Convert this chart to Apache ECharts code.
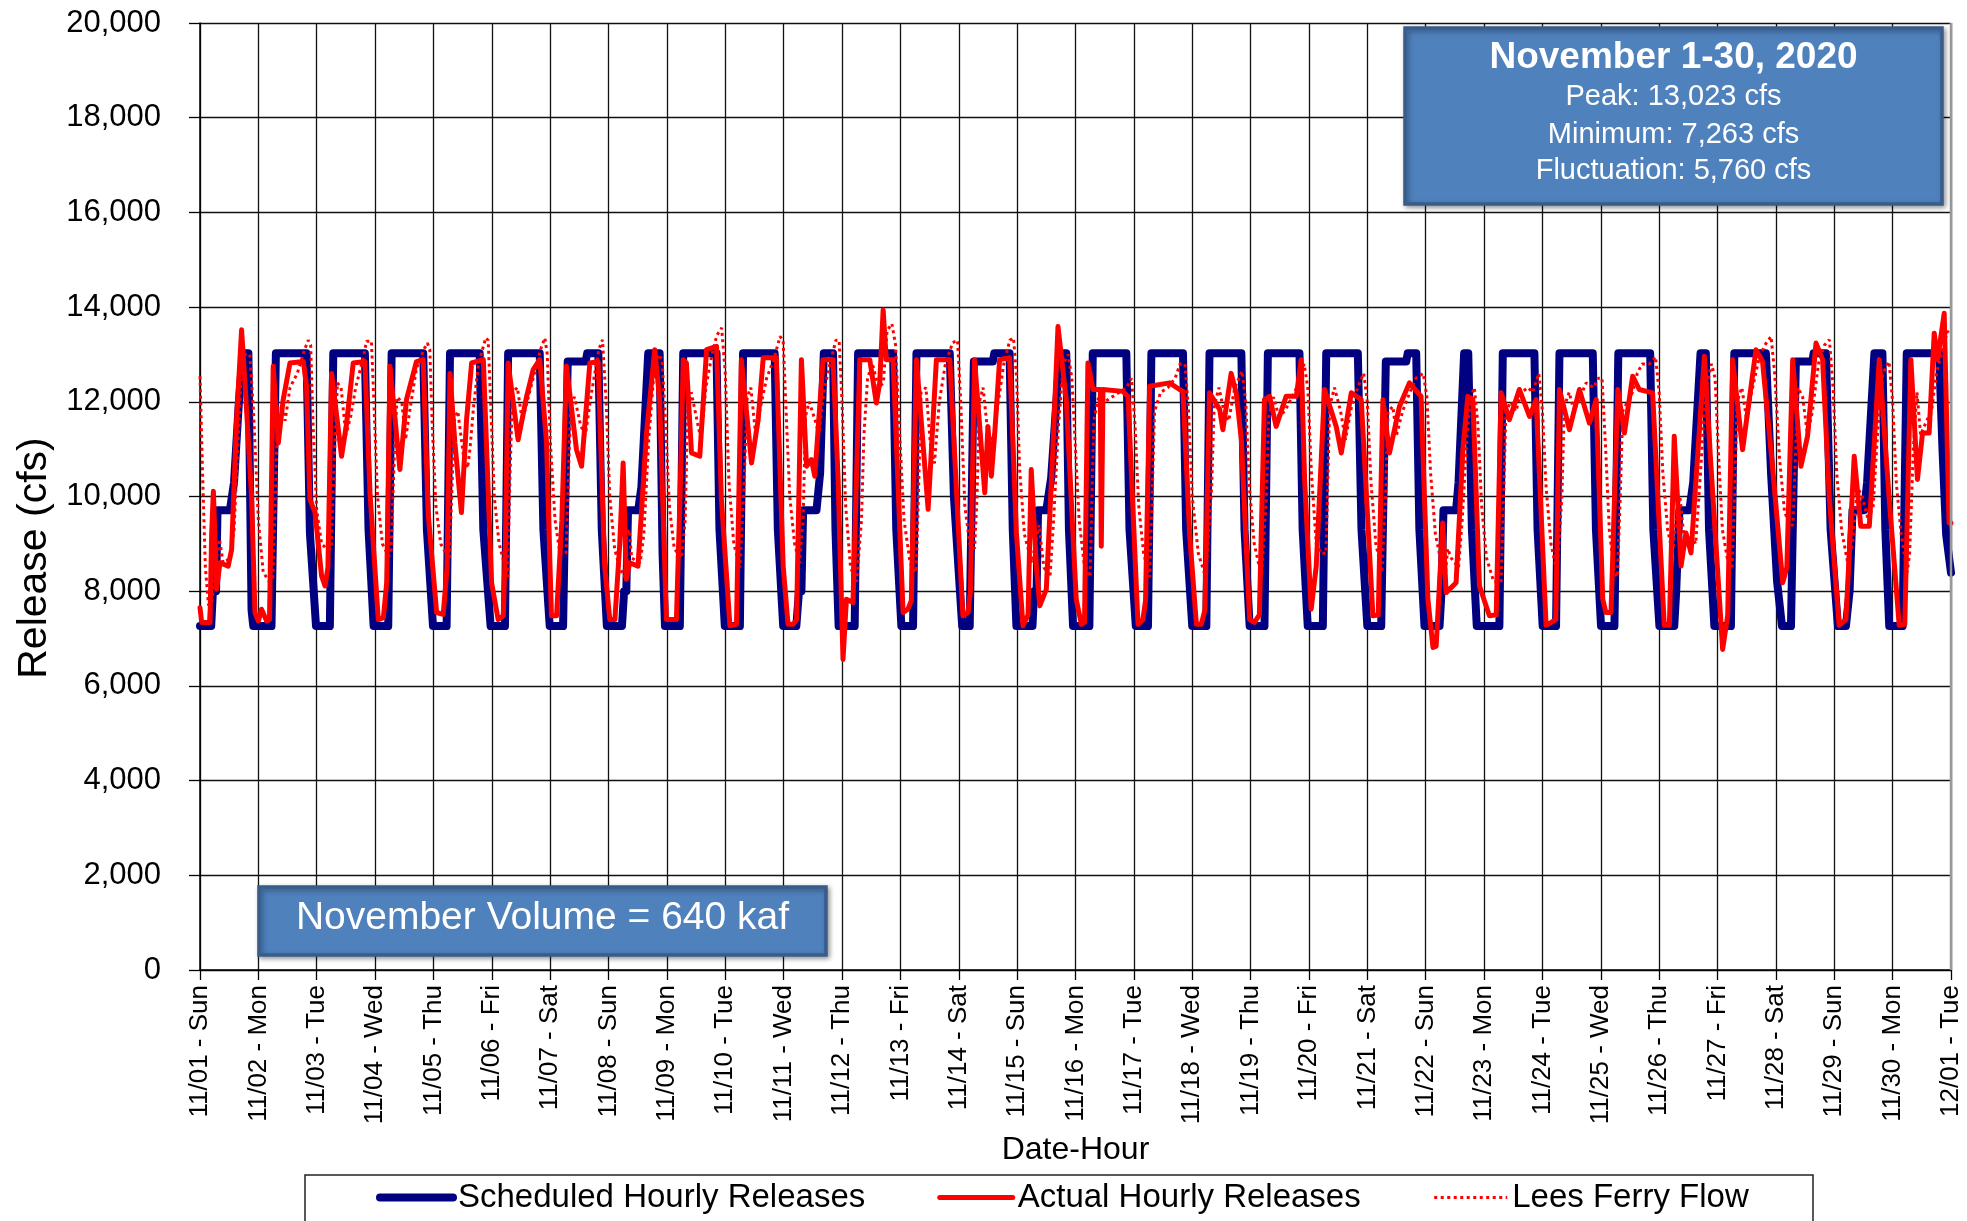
<!DOCTYPE html>
<html>
<head>
<meta charset="utf-8">
<script src="https://cdn.jsdelivr.net/npm/echarts@6/dist/echarts.min.js"></script>
<style>
html,body{margin:0;padding:0;background:#fff;}
#chart{width:1967px;height:1221px;}
</style>
</head>
<body>
<div id="chart"></div>
<script>
// ---- Data (hour since 11/01 00:00, cfs) ----
const dayLabels = ['11/01 - Sun','11/02 - Mon','11/03 - Tue','11/04 - Wed','11/05 - Thu','11/06 - Fri','11/07 - Sat','11/08 - Sun','11/09 - Mon','11/10 - Tue','11/11 - Wed','11/12 - Thu','11/13 - Fri','11/14 - Sat','11/15 - Sun','11/16 - Mon','11/17 - Tue','11/18 - Wed','11/19 - Thu','11/20 - Fri','11/21 - Sat','11/22 - Sun','11/23 - Mon','11/24 - Tue','11/25 - Wed','11/26 - Thu','11/27 - Fri','11/28 - Sat','11/29 - Sun','11/30 - Mon','12/01 - Tue'];

const seriesNames = ['Scheduled Hourly Releases','Actual Hourly Releases','Lees Ferry Flow'];

const scheduled = [
[0,7263],[4.6,7263],[5.3,8000],[6.6,8000],[7.2,9712],[12.3,9712],[14,10300],[16,12000],[17.6,13023],[19.9,13023],[21.2,7600],[21.9,7263],
[29.4,7263],[31.2,13023],[43.8,13023],[45.2,9230],[47.7,7263],
[53.4,7263],[54.8,13023],[67.8,13023],[69.3,9300],[71.4,7263],
[77.4,7263],[78.8,13023],[91.8,13023],[93.3,9300],[95.8,7263],
[101.4,7263],[102.8,13023],[115,13023],[116.5,9300],[119.5,7263],
[125.4,7263],[126.7,13023],[139.7,13023],[141.2,9300],[143.8,7263],
[149.3,7263],[151.2,12850],[158.6,12850],[159.2,13023],[163.8,13023],[165.2,9300],[167.3,7263],
[173.5,7263],[174.4,8000],[175.3,8000],[176,9712],[180.2,9712],[181.5,10200],[184.3,13023],[189,13023],[190.2,8800],[191.2,7263],
[197.3,7263],[198.7,13023],[212.4,13023],[213.6,9300],[215.8,7263],
[222,7263],[223.3,13023],[236.3,13023],[237.6,9300],[239.8,7263],
[245.2,7263],[246.3,8000],[247.3,8000],[248,9712],[253.5,9712],[255,10500],[256.5,13023],[260.3,13023],[261.3,9300],[262.6,7263],
[269.2,7263],[270.6,13023],[285,13023],[286.3,9300],[288.4,7263],
[293.2,7263],[294.6,13023],[308.3,13023],[310,10000],[313.4,7263],
[316.5,7263],[318.2,12850],[326,12850],[326.6,13023],[332.9,13023],[334.2,9300],[335.7,7263],
[342.3,7263],[343,8000],[344,8000],[344.6,9712],[348,9712],[350,10400],[353.5,13023],[356.2,13023],[357.3,9300],[359,7263],
[365.7,7263],[367.1,13023],[380.9,13023],[382.2,9300],[384.8,7263],
[389.8,7263],[391.2,13023],[404.2,13023],[405.5,9300],[408,7263],
[413.8,7263],[415.1,13023],[428.2,13023],[429.5,9300],[431.6,7263],
[437.7,7263],[439.1,13023],[452.1,13023],[453.4,9300],[455.5,7263],
[461.7,7263],[463.1,13023],[476.1,13023],[477.6,9300],[480,7263],
[485.7,7263],[487.6,12850],[496,12850],[496.6,13023],[500.1,13023],[501.4,9300],[503.5,7263],
[509.7,7263],[510.5,8000],[511.3,9712],[516.5,9712],[517.5,10300],[519.8,13023],[521.5,13023],[523,9300],[525,7263],
[534.3,7263],[535.7,13023],[548.7,13023],[550,9300],[552.1,7263],
[557.6,7263],[559,13023],[572.7,13023],[574,9300],[576.1,7263],
[581.6,7263],[583.2,13023],[596.3,13023],[597.6,9300],[600.1,7263],
[606.2,7263],[607,8000],[608.3,9712],[612.4,9712],[614,10300],[617,13023],[619.2,13023],[620.5,9300],[622.7,7263],
[629.5,7263],[630.9,13023],[643.9,13023],[646,10500],[648.5,8200],[650.5,7263],
[654.2,7263],[656.2,12850],[663,12850],[663.5,13023],[668.6,13023],[670.5,9300],[673.5,7263],
[676.8,7263],[678.3,8000],[679.5,9712],[684.3,9712],[685.5,10300],[688.5,13023],[691.8,13023],[693,9300],[694.6,7263],
[700.1,7263],[701.8,13023],[715.1,13023],[716.5,11000],[718,9200],[720,8390]
];

const actual = [
[0,7650],[0.7,7340],[4.1,7340],[4.8,9230],[5.5,10110],[6.85,8040],[8.2,8600],[11.6,8530],[13,8880],[15.1,11690],[17.1,13520],[18.5,12400],[21.2,10010],[22.6,7550],[24,7370],[25.3,7620],[27.4,7370],[28.6,7400],
[30.1,12750],[32.2,11130],[34.2,12045],[37,12820],[42.5,12850],[43.8,12330],[45.2,9940],[47.3,9660],[50,8320],[51.4,8110],[52.6,8500],
[54.1,12600],[58.2,10850],[60.3,11550],[63,12820],[67.8,12850],[69.9,10080],[73.3,7400],[75.4,7440],[76.8,8200],
[78.1,12750],[82.2,10570],[84.9,12045],[89,12850],[91.8,12890],[93.8,9660],[97.3,7550],[100,7510],[101.6,8500],
[102.8,12600],[104.8,11130],[107.5,9660],[109.6,11620],[111.7,12820],[116.5,12890],[119.9,8180],[122.6,7400],[124.7,7480],[125.6,9000],
[126.7,12820],[130.8,11200],[134.3,12110],[137,12680],[139.7,12890],[142.5,11130],[144.5,7480],[146.6,7480],[148.8,9500],
[150.7,12750],[154.8,10990],[156.9,10640],[160.3,12820],[163.7,12850],[166.4,8530],[168.5,7400],[170.6,7400],[172.6,9000],
[174,10710],[175.3,8250],[176.7,8600],[180.1,8530],[183.6,11340],[187,13100],[189,12045],[191.8,7400],[195.9,7400],[197.4,10000],
[198.7,12890],[200,12820],[202.1,10920],[205.5,10850],[208.3,13100],[212.4,13170],[214.4,9940],[217.9,7270],[220.6,7300],
[222.6,12890],[226.8,10710],[229.5,11620],[231.6,12930],[237,12930],[239.8,8530],[241.8,7300],[243.9,7300],[245.3,7400],
[247.3,12890],[249.4,10640],[251.4,10780],[252.8,10430],[256.2,12890],[260.3,12890],[262.4,10360],[264.4,6560],[265.8,7830],[268.5,7760],
[271.3,12890],[275.4,12890],[278.1,11975],[279.5,12400],[280.9,13940],[282.2,12890],[285,12890],[289.1,7550],[291.1,7620],[292.5,7800],
[294.6,12890],[299.4,9730],[302.8,12890],[308.3,12890],[313.7,7480],[315.8,7550],[316.8,8000],
[318.5,12890],[322.7,10080],[324,11480],[325.4,10430],[326.8,11340],[328.8,12890],[332.9,12930],[335.7,9230],[338.4,7270],[340.5,7500],
[341.8,10570],[343.9,8530],[345.3,7690],[348,8040],[350.7,10990],[352.8,13590],[356.2,12045],[360.3,7830],[362.4,7300],[363.7,7340],
[365.1,12820],[367.2,12260],[370.2,12260],[370.6,8950],[371.3,12260],[379.5,12220],[381.6,12110],[385.7,7300],[387.7,7400],[388.8,7800],
[390.5,12330],[398.7,12400],[402.8,12260],[404.2,12220],[406.9,9230],[409.7,7300],[411.7,7300],[413.2,7600],
[415.1,12190],[419.3,11835],[420.6,11410],[424,12600],[426.1,12190],[428.2,11200],[431.6,7400],[433.6,7340],[435.6,7500],
[437.7,12045],[439.8,12115],[442.5,11480],[446.6,12115],[450.8,12115],[452.8,12890],[454.2,10360],[456.9,7620],[459,8530],
[462.4,12260],[467.2,11480],[469.3,10920],[473.4,12190],[477.5,12045],[479.5,10150],[482.3,7480],[484.5,7500],
[486.4,12045],[489.1,10920],[493.2,11900],[497.3,12400],[502.1,12115],[504.9,7830],[507,6810],[508.3,6840],
[511,9440],[512.4,7970],[516.5,8180],[519.3,10990],[521.3,12115],[523.4,12045],[526.1,8110],[530.2,7480],[533,7500],
[535,12190],[538.4,11620],[542.5,12260],[546.7,11690],[549.4,12045],[553.5,7280],[555.6,7340],[557.5,7400],
[559,12260],[563.1,11410],[567.2,12260],[571.3,11550],[574.1,12045],[576.8,7830],[578.1,7550],[580.2,7550],
[583,12260],[585.7,11340],[589.1,12540],[591.8,12260],[597.3,12190],[602.1,7280],[604.2,7280],
[606.2,11270],[609,8530],[611,9230],[613.1,8810],[618.6,12960],[621.3,10640],[626.1,6770],[628.2,7500],
[630.2,12890],[634.3,10990],[639.8,13100],[642.5,12850],[646.6,10640],[650.8,8180],[652.5,8500],
[654.9,12890],[658.3,10640],[661,11270],[664.5,13240],[667.2,12890],[670,9940],[674,7280],[676.8,7400],
[680.2,10850],[682.9,9370],[686.4,9370],[690.5,12890],[694.6,9940],[698.7,7280],[701,7300],
[703.5,12890],[706.2,10360],[708.3,11340],[711,11340],[713.1,13450],[714.5,12890],[717.2,13870],[719.2,9440],[720,9440]
];

const leesFerry = [
[0,12540],[1,10600],[2.2,8500],[3.5,7700],[5,7800],[6.5,8600],[8,9100],[9.5,8600],[12.5,8700],[14,9300],[15.5,11000],[17,12600],[18.5,13000],[20.5,13000],[22,11800],[24,9500],[26,8400],[28.5,8200],
[30,8300],[31,10000],[32,11900],[33.5,11900],[35,11600],[37,12300],[40,12600],[43,13100],[44.5,13300],[45.5,13200],[46.5,11500],[48,9700],[50,9000],[52,8900],[54,8900],
[55,10500],[56.5,12400],[58,12300],[60,11300],[62,11700],[64,12300],[67,12900],[68.5,13280],[70.5,13280],[71.5,12000],[73,10000],[75,9000],[77.5,8740],
[78.5,8800],[80,11000],[81,12100],[83,12000],[84.5,11200],[86.5,11900],[89,12700],[92,13100],[93.5,13240],[94.5,13100],[95.5,11500],[97,9800],[99,9000],[102.5,8670],
[103.5,10000],[104.5,11600],[106,11800],[108.5,10800],[110,10600],[111,11000],[112.5,11900],[114.5,12800],[117.5,13350],[118.5,13300],[119.5,12000],[121,10000],[123,9000],[126.5,8300],
[127.5,10500],[128.5,12200],[130.5,12300],[132.5,11600],[134.5,12000],[137,12500],[140,13100],[141.8,13350],[142.8,13000],[144,11200],[146,9500],[148,8800],[150.5,8800],
[151.5,10500],[152.5,12000],[154,12100],[156.5,11500],[158.5,11300],[161,12200],[164,13100],[165.5,13310],[167,12000],[168.5,10000],[170.5,8900],[172.5,8500],[174.5,8300],
[175.5,9200],[176.5,9300],[177.5,8700],[181,8600],[182.5,9200],[184.5,11200],[186.5,12500],[188.5,13000],[190,12900],[191.5,11500],[193,9800],[195,8900],[198,8700],
[199.5,9500],[200.5,11800],[202,12200],[204,11700],[206,11200],[208,12300],[210.5,13000],[212.5,13400],[214.5,13560],[216,12600],[217.5,10300],[219.5,9000],[222,8500],
[223.5,10000],[225,12100],[226.5,12300],[228.5,11300],[230.5,11900],[233,12500],[236,12900],[238.5,13380],[239.8,13300],[241,11800],[242.5,10000],[244.5,9000],[246.5,8600],
[248,9500],[249,11700],[250.5,12000],[253,11600],[254.5,11300],[256.5,12200],[259,12800],[261.5,13300],[262.8,13300],[264,12000],[265.5,9800],[267.5,8500],[270,8200],
[272,9500],[273,11300],[274.5,12500],[276.5,12800],[279,12300],[281,12400],[282.5,13500],[284.5,13650],[286,13200],[287.5,11500],[289.5,9500],[292,8600],[294.5,8400],
[295.5,10200],[296.5,12200],[298.5,12300],[300.5,11000],[302,10700],[304,12000],[306.5,12800],[309.5,13250],[311.5,13300],[312.8,12000],[314.5,9800],[316.5,9000],[318.5,8900],
[319.5,10000],[320.5,12000],[322,12300],[324,11300],[326,11200],[328,11900],[330.5,12800],[333,13300],[334.5,13350],[335.8,12500],[337,10600],[339,9200],[342,8600],
[343.5,9000],[345,9400],[347,8500],[349.5,8300],[351,9500],[353,11500],[355,12800],[357,13000],[358.5,12500],[360,11000],[361.5,9500],[363.5,8600],[366,8300],
[367.5,11600],[369.5,12100],[372,12000],[375,12100],[378,12200],[381,12300],[383,12500],[384.5,11500],[386,9800],[388,8800],[390.5,8300],
[391.5,10000],[392.5,11800],[395,12200],[398,12300],[401,12500],[403,12800],[405,12800],[406.5,11800],[408,10000],[410.5,8800],[413.5,8300],
[416,10200],[417,11900],[419,12300],[421,11800],[423,11600],[425.5,12300],[428.5,12650],[430,12000],[431.5,10200],[433.5,9000],[436.5,8300],
[438.5,10000],[439.5,11700],[441.5,12100],[443.5,11700],[446,11800],[449,12100],[452,12400],[454,12800],[455.5,12300],[457,10500],[459,9000],[461,8800],[463,8800],
[464.5,11900],[466.5,12300],[469,11800],[471,11200],[473.5,11900],[476,12300],[478.5,12600],[480,12000],[481.5,10300],[483.5,9000],[486,8400],
[487.5,10000],[488.5,11800],[490.5,11900],[492,11300],[494.5,11800],[497.5,12200],[500,12500],[503,12600],[504.5,12100],[506,10500],[508,9200],[510,8700],
[512,8300],[513,8900],[514.5,8700],[517.5,8500],[519,9500],[521,11300],[522.5,12100],[524,12300],[525.5,11500],[527,9800],[529,8700],[532,8200],[535,8200],
[536,10000],[537,11800],[539,12000],[541,11800],[543.5,12200],[546,12300],[548,12200],[550.5,12600],[552,11800],[553.5,10200],[555.5,9000],[558,8400],
[560,10000],[561,11900],[563,12200],[565,11800],[567.5,12100],[570,12400],[573,12300],[575,12500],[576.5,12500],[578,11000],[579.5,9300],[581.5,8400],[582.8,8300],
[584,10000],[585,11800],[587,12000],[589,12200],[591,12600],[593,12800],[596,12800],[598.5,12950],[600,12200],[601.5,10500],[603.5,9300],[605.5,8800],
[607,9500],[608.5,10000],[610.5,9000],[613,9200],[615,9000],[617,10500],[619,12200],[621.5,12800],[623,12500],[624.5,10800],[626,9300],[628,8700],[630,8500],
[631,10000],[632,12000],[634,12300],[636,11600],[638,12200],[641,12900],[643.5,13200],[646,13380],[647.5,12600],[649.5,10800],[651.5,9700],[653.5,9400],[655,9400],
[656,10800],[657,12300],[659,12100],[661,11300],[663,11800],[665.5,12800],[668,13200],[670,13310],[671.5,12300],[673,10500],[675,9300],[677.5,8600],
[679.5,9000],[681.5,10200],[683.5,10000],[686,9500],[688,9800],[690,11500],[692,12600],[694.5,12850],[696,12000],[697.5,10300],[699.5,9200],[702,8400],
[703,8800],[704.5,11000],[706,12200],[707.5,11300],[710,11600],[712,11800],[714,12600],[716,13000],[718.5,13490],[720,13400]
];

const yAxisTitle = 'Release (cfs)';
const summaryTitle = 'November 1-30, 2020';
const summaryLines = ['Peak: 13,023 cfs','Minimum: 7,263 cfs','Fluctuation: 5,760 cfs'];
const volumeText = 'November Volume = 640 kaf';

// ---- Chart ----
const FONT = '"Liberation Sans", Arial, Helvetica, sans-serif';
const chart = echarts.init(document.getElementById('chart'), null, {renderer: 'canvas'});

const option = {
  animation: false,
  backgroundColor: '#ffffff',
  textStyle: {fontFamily: FONT, color: '#000'},
  grid: {left: 200, right: 16, top: 23, bottom: 251, containLabel: false},
  xAxis: {
    type: 'value', min: 0, max: 720, interval: 24,
    name: 'Date-Hour', nameLocation: 'middle', nameGap: 164,
    nameTextStyle: {fontSize: 32, color: '#000', fontFamily: FONT},
    axisLine: {show: true, onZero: false, lineStyle: {color: '#000', width: 1.5}},
    axisTick: {show: true, length: 10, lineStyle: {color: '#000', width: 1.3}},
    axisLabel: {
      rotate: 90, fontSize: 26, color: '#000', margin: 15, fontFamily: FONT,
      showMinLabel: true, showMaxLabel: true,
      formatter: v => dayLabels[Math.round(v / 24)] || ''
    },
    splitLine: {show: true, lineStyle: {color: '#111', width: 1.3}}
  },
  yAxis: {
    type: 'value', min: 0, max: 20000, interval: 2000,
    axisLine: {show: true, lineStyle: {color: '#000', width: 1.5}},
    axisTick: {show: true, length: 11, lineStyle: {color: '#000', width: 1.3}},
    axisLabel: {
      fontSize: 31, color: '#000', margin: 39, fontFamily: FONT,
      formatter: v => v.toLocaleString('en-US')
    },
    splitLine: {show: true, lineStyle: {color: '#111', width: 1.3}}
  },
  legend: {
    data: [
      {name: seriesNames[0], lineStyle: {width: 8}},
      {name: seriesNames[1], lineStyle: {width: 5}},
      {name: seriesNames[2], lineStyle: {width: 3}}
    ],
    left: 376, top: 1181, padding: 0,
    itemWidth: 73, itemHeight: 14, itemGap: 72,
    itemStyle: {opacity: 0},
    textStyle: {fontSize: 33, color: '#000', fontFamily: FONT}
  },
  series: [
    {
      name: seriesNames[0], type: 'line', data: scheduled,
      showSymbol: false, symbol: 'none',
      lineStyle: {color: '#000080', width: 8, join: 'round', cap: 'round'},
      itemStyle: {color: '#000080'}, z: 2
    },
    {
      name: seriesNames[1], type: 'line', data: actual,
      showSymbol: false, symbol: 'none',
      lineStyle: {color: '#FF0000', width: 5, join: 'round', cap: 'round'},
      itemStyle: {color: '#FF0000'}, z: 3
    },
    {
      name: seriesNames[2], type: 'line', data: leesFerry,
      showSymbol: false, symbol: 'none',
      lineStyle: {color: '#FF0000', width: 3, type: [3, 3.5]},
      itemStyle: {color: '#FF0000'}, z: 4
    }
  ],
  graphic: [
    {type: 'rect', z: -1, silent: true,
     shape: {x: 305, y: 1175, width: 1508, height: 70},
     style: {fill: '#fff', stroke: '#222', lineWidth: 1.5}},
    {type: 'line', z: 5, silent: true,
     shape: {x1: 1951, y1: 23, x2: 1951, y2: 970},
     style: {stroke: '#999', lineWidth: 2.5}},
    {type: 'text', z: 5, silent: true, x: 35, y: 558, rotation: Math.PI / 2,
     style: {text: yAxisTitle, fill: '#000', fontSize: 41, fontFamily: FONT,
             align: 'center', verticalAlign: 'middle'}},
    {type: 'rect', z: 100, silent: true,
     shape: {x: 1405, y: 28, width: 537, height: 176},
     style: {fill: '#4F81BD', stroke: '#385D8A', lineWidth: 3.5,
             shadowBlur: 5, shadowColor: 'rgba(0,0,0,0.35)', shadowOffsetX: 2, shadowOffsetY: 2}},
    {type: 'text', z: 101, silent: true, x: 1673.5, y: 58,
     style: {text: summaryTitle, fill: '#fff', fontSize: 37, fontWeight: 'bold', fontFamily: FONT,
             align: 'center', verticalAlign: 'middle'}},
    {type: 'text', z: 101, silent: true, x: 1673.5, y: 97,
     style: {text: summaryLines[0], fill: '#fff', fontSize: 29, fontFamily: FONT,
             align: 'center', verticalAlign: 'middle'}},
    {type: 'text', z: 101, silent: true, x: 1673.5, y: 135,
     style: {text: summaryLines[1], fill: '#fff', fontSize: 29, fontFamily: FONT,
             align: 'center', verticalAlign: 'middle'}},
    {type: 'text', z: 101, silent: true, x: 1673.5, y: 171,
     style: {text: summaryLines[2], fill: '#fff', fontSize: 29, fontFamily: FONT,
             align: 'center', verticalAlign: 'middle'}},
    {type: 'rect', z: 100, silent: true,
     shape: {x: 259, y: 887, width: 567, height: 68},
     style: {fill: '#4F81BD', stroke: '#385D8A', lineWidth: 3.5,
             shadowBlur: 5, shadowColor: 'rgba(0,0,0,0.35)', shadowOffsetX: 2, shadowOffsetY: 2}},
    {type: 'text', z: 101, silent: true, x: 542.5, y: 918,
     style: {text: volumeText, fill: '#fff', fontSize: 39, fontFamily: FONT,
             align: 'center', verticalAlign: 'middle'}}
  ]
};
chart.setOption(option);
</script>
</body>
</html>
